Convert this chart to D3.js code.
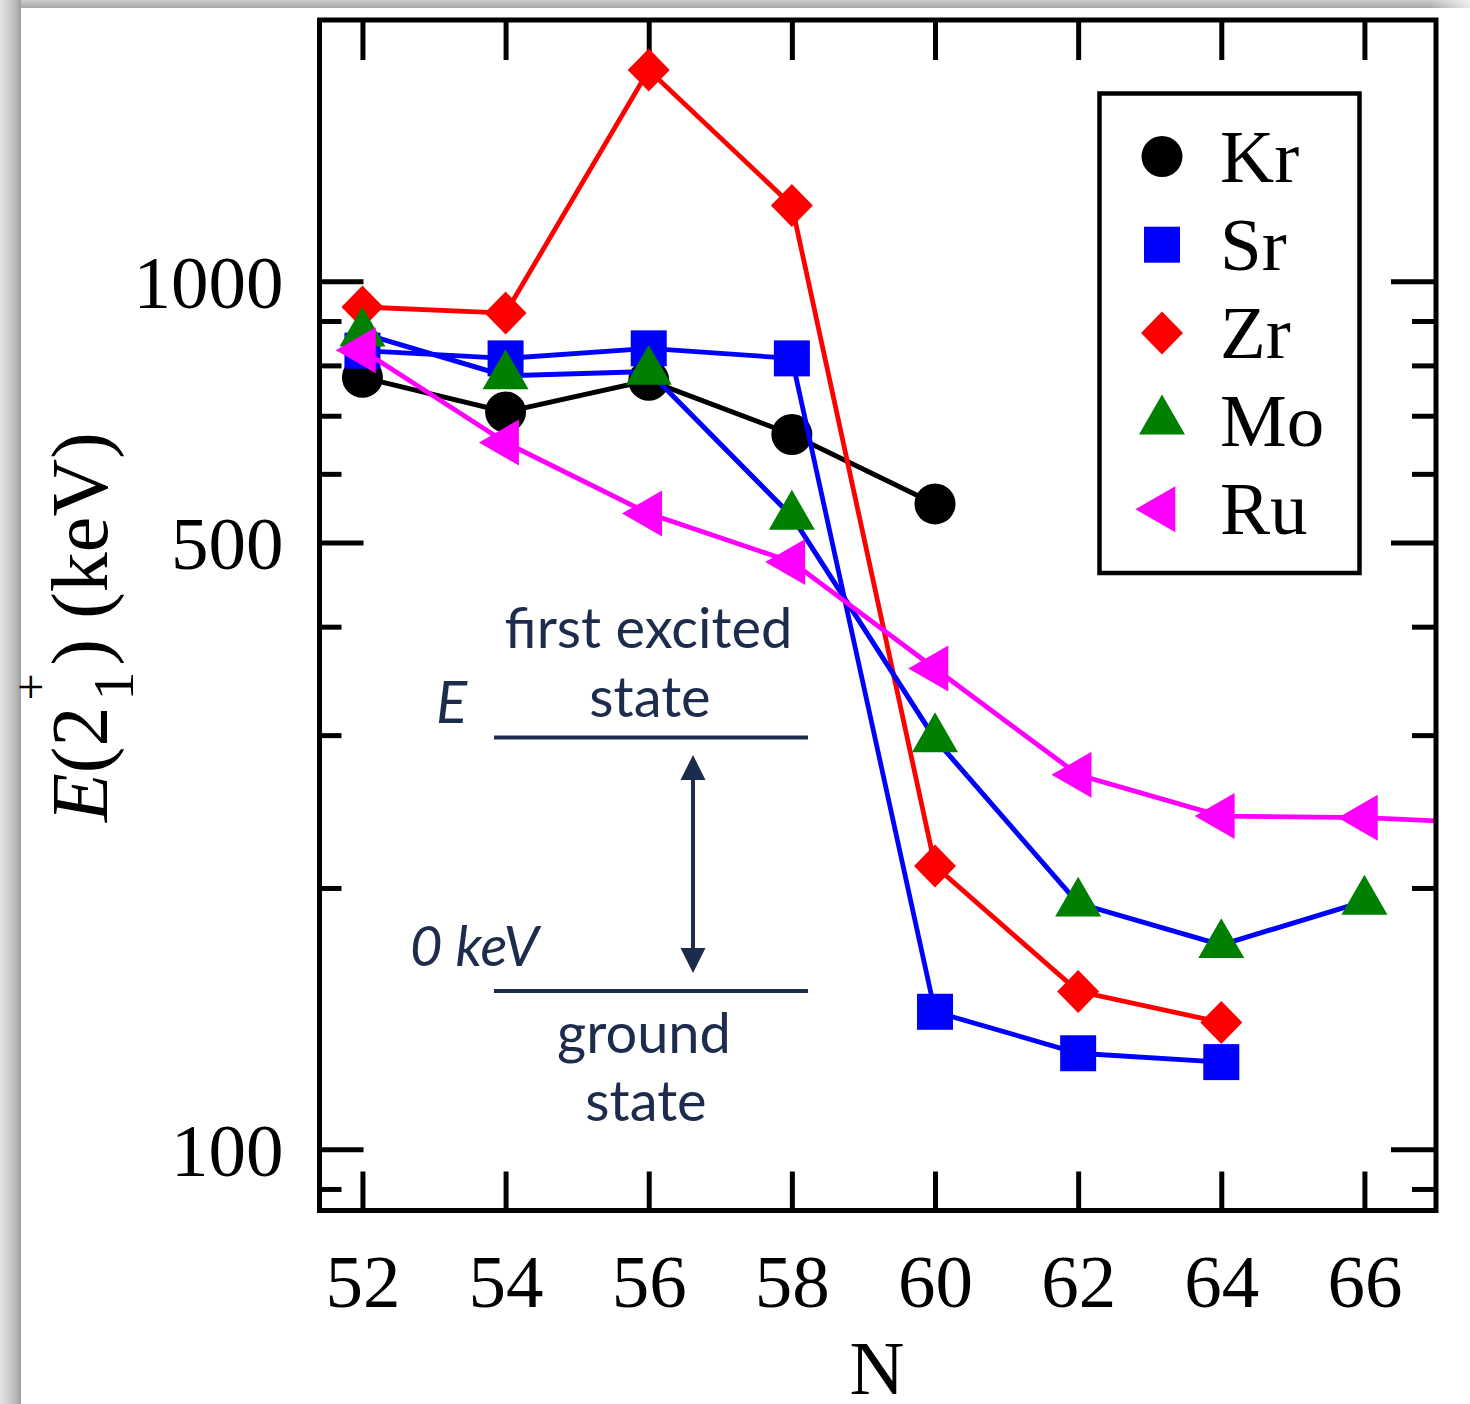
<!DOCTYPE html>
<html>
<head>
<meta charset="utf-8">
<script src="https://cdn.jsdelivr.net/npm/d3@7"></script>
<style>
  html, body { margin: 0; padding: 0; background: #ffffff; }
  svg { display: block; }
</style>
</head>
<body>
<div id="chart"></div>
<script>
// Neutron number N on the x axis, E(2+_1) in keV on a log y axis
const nTicks = [52, 54, 56, 58, 60, 62, 64, 66];
const yMajorTicks = [100, 500, 1000];
const yMinorTicks = [90, 200, 300, 400, 600, 700, 800, 900];

const krN = [52, 54, 56, 58, 60];
const krE = [775, 707, 769, 666, 554];

const srN = [52, 54, 56, 58, 60, 62, 64];
const srE = [832, 815, 837, 815, 144, 129, 126];

const zrN = [52, 54, 56, 58, 60, 62, 64];
const zrE = [934, 919, 1751, 1223, 212, 152, 140];

const moN = [52, 54, 56, 58, 60, 62, 64, 66];
const moE = [871, 778, 787, 536, 297, 192, 172, 193];

const ruN = [52, 54, 56, 58, 60, 62, 64, 66, 68];
const ruE = [833, 652, 540, 475, 358, 270, 242, 241, 237];

const seriesNames = ["Kr", "Sr", "Zr", "Mo", "Ru"];

// ---- layout ----
const W = 1470, H = 1404;
const plotL = 319.5, plotR = 1436, plotT = 20, plotB = 1210.5;

const x = d3.scaleLinear().domain([51.4, 67]).range([plotL, plotR]);
const y = d3.scaleLog().domain([85, 2000]).range([plotB, plotT]);

const serif = "'Liberation Serif', 'Times New Roman', serif";
const sans = "Lato, 'Open Sans', sans-serif";
const navy = "#1d2c4d";

// marker shapes, centred on the data point (triangles on their centroid)
const shapes = {
  circle: g => g.append("circle").attr("r", 20.5),
  square: g => g.append("rect").attr("x", -18).attr("y", -18).attr("width", 36).attr("height", 36),
  diamond: g => g.append("path").attr("d", "M0,-21.5L21,0L0,21.5L-21,0Z"),
  triUp: g => {
    const s = 46, h = s * Math.sqrt(3) / 2;
    return g.append("path").attr("d", `M0,${-2 * h / 3}L${s / 2},${h / 3}L${-s / 2},${h / 3}Z`);
  },
  triLeft: g => {
    const w = 40, hh = 23;
    return g.append("path").attr("d", `M${-2 * w / 3},0L${w / 3},${-hh}L${w / 3},${hh}Z`);
  }
};

const series = [
  { name: "Kr", n: krN, e: krE, shape: "circle",  fill: "#000000", line: "#000000", lw: 5 },
  { name: "Sr", n: srN, e: srE, shape: "square",  fill: "#0000ff", line: "#0000ff", lw: 4.8 },
  { name: "Zr", n: zrN, e: zrE, shape: "diamond", fill: "#ff0000", line: "#ff0000", lw: 4.8 },
  { name: "Mo", n: moN, e: moE, shape: "triUp",   fill: "#008000", line: "#0000ff", lw: 5 },
  { name: "Ru", n: ruN, e: ruE, shape: "triLeft", fill: "#ff00ff", line: "#ff00ff", lw: 4.8 }
];

const svg = d3.select("#chart").append("svg")
  .attr("width", W).attr("height", H)
  .attr("viewBox", `0 0 ${W} ${H}`);

// ---- page with a soft edge on the top and left ----
const defs = svg.append("defs");
const gl = defs.append("linearGradient").attr("id", "edgeLeft").attr("x1", 0).attr("x2", 1).attr("y1", 0).attr("y2", 0);
gl.append("stop").attr("offset", 0).attr("stop-color", "#e4e4e4");
gl.append("stop").attr("offset", 0.7).attr("stop-color", "#bdbdbd");
gl.append("stop").attr("offset", 1).attr("stop-color", "#9e9e9e");
const gt = defs.append("linearGradient").attr("id", "edgeTop").attr("x1", 0).attr("x2", 0).attr("y1", 0).attr("y2", 1);
gt.append("stop").attr("offset", 0).attr("stop-color", "#cdcdcd");
gt.append("stop").attr("offset", 1).attr("stop-color", "#a8a8a8");
const gtr = defs.append("linearGradient").attr("id", "edgeTopFade").attr("x1", 0).attr("x2", 1).attr("y1", 0).attr("y2", 0);
gtr.append("stop").attr("offset", 0).attr("stop-color", "#ffffff").attr("stop-opacity", 0);
gtr.append("stop").attr("offset", 1).attr("stop-color", "#ffffff").attr("stop-opacity", 0.75);

svg.append("rect").attr("width", W).attr("height", H).attr("fill", "#ffffff");
svg.append("rect").attr("x", 0).attr("y", 0).attr("width", W).attr("height", 8).attr("fill", "url(#edgeTop)");
svg.append("rect").attr("x", 1430).attr("y", 0).attr("width", 40).attr("height", 8).attr("fill", "url(#edgeTopFade)");
svg.append("rect").attr("x", 0).attr("y", 0).attr("width", 21).attr("height", H).attr("fill", "url(#edgeLeft)");

defs.append("clipPath").attr("id", "plotClip")
  .append("rect").attr("x", plotL).attr("y", plotT).attr("width", plotR - plotL).attr("height", plotB - plotT);

// ---- axes: inward ticks on all four sides ----
function styleAxis(g) {
  g.select(".domain").remove();
  g.selectAll(".tick line").attr("stroke", "#000").attr("stroke-width", 5);
  g.selectAll(".tick text").attr("font-family", serif).attr("font-size", 75).attr("fill", "#000");
}

svg.append("g").attr("transform", `translate(0,${plotB})`)
  .call(d3.axisBottom(x).tickValues(nTicks).tickSizeInner(-39).tickSizeOuter(0).tickFormat(d3.format("d")))
  .call(styleAxis)
  .call(g => g.selectAll(".tick text").attr("y", 96.5).attr("dy", 0));

svg.append("g").attr("transform", `translate(0,${plotT})`)
  .call(d3.axisTop(x).tickValues(nTicks).tickSizeInner(-40).tickSizeOuter(0).tickFormat(""))
  .call(styleAxis);

svg.append("g").attr("transform", `translate(${plotL},0)`)
  .call(d3.axisLeft(y).tickValues(yMajorTicks).tickSizeInner(-44).tickSizeOuter(0).tickPadding(36).tickFormat(d3.format("d")))
  .call(styleAxis)
  .call(g => g.selectAll(".tick text").attr("dy", "0.35em"));

svg.append("g").attr("transform", `translate(${plotL},0)`)
  .call(d3.axisLeft(y).tickValues(yMinorTicks).tickSizeInner(-22).tickSizeOuter(0).tickFormat(""))
  .call(styleAxis);

svg.append("g").attr("transform", `translate(${plotR},0)`)
  .call(d3.axisRight(y).tickValues(yMajorTicks).tickSizeInner(-45).tickSizeOuter(0).tickFormat(""))
  .call(styleAxis);

svg.append("g").attr("transform", `translate(${plotR},0)`)
  .call(d3.axisRight(y).tickValues(yMinorTicks).tickSizeInner(-24).tickSizeOuter(0).tickFormat(""))
  .call(styleAxis);

// ---- level-scheme inset ----
const inset = svg.append("g").attr("fill", navy).attr("font-family", sans).attr("font-size", 56);
inset.append("text").attr("x", 648.5).attr("y", 648).attr("text-anchor", "middle").text("first excited");
inset.append("text").attr("x", 650).attr("y", 717).attr("text-anchor", "middle").text("state");
inset.append("text").attr("x", 436).attr("y", 723).attr("font-style", "italic").attr("font-size", 58).text("E");
inset.append("text").attr("x", 410).attr("y", 966).attr("font-style", "italic").text("0 keV");
inset.append("text").attr("x", 644).attr("y", 1053).attr("text-anchor", "middle").text("ground");
inset.append("text").attr("x", 646).attr("y", 1121).attr("text-anchor", "middle").text("state");
inset.append("line").attr("x1", 494).attr("x2", 808).attr("y1", 737.5).attr("y2", 737.5)
  .attr("stroke", navy).attr("stroke-width", 4);
inset.append("line").attr("x1", 494).attr("x2", 808).attr("y1", 991).attr("y2", 991)
  .attr("stroke", navy).attr("stroke-width", 4);
inset.append("line").attr("x1", 693).attr("x2", 693).attr("y1", 770).attr("y2", 958)
  .attr("stroke", navy).attr("stroke-width", 4);
inset.append("path").attr("d", "M693,755L705.5,780L680.5,780Z");
inset.append("path").attr("d", "M693,973L705.5,948L680.5,948Z");

// ---- data: lines then markers, series by series ----
const plot = svg.append("g").attr("clip-path", "url(#plotClip)");
const lineGen = d3.line().x(d => x(d[0])).y(d => y(d[1]));

series.forEach(s => {
  const pts = s.n.map((n, i) => [n, s.e[i]]);
  plot.append("path").datum(pts)
    .attr("d", lineGen)
    .attr("fill", "none")
    .attr("stroke", s.line)
    .attr("stroke-width", s.lw)
    .attr("stroke-linejoin", "miter");
  pts.forEach(p => {
    const g = plot.append("g").attr("transform", `translate(${x(p[0])},${y(p[1])})`).attr("fill", s.fill);
    shapes[s.shape](g);
  });
});

// ---- frame ----
svg.append("rect").attr("x", plotL).attr("y", plotT)
  .attr("width", plotR - plotL).attr("height", plotB - plotT)
  .attr("fill", "none").attr("stroke", "#000").attr("stroke-width", 5);

// ---- legend ----
const legend = svg.append("g");
legend.append("rect").attr("x", 1099.5).attr("y", 93.5).attr("width", 260).attr("height", 479.5)
  .attr("fill", "#fff").attr("stroke", "#000").attr("stroke-width", 4.5);
series.forEach((s, i) => {
  const cy = 156.5 + i * 88.2;
  const g = legend.append("g").attr("transform", `translate(1162,${cy})`).attr("fill", s.fill);
  shapes[s.shape](g);
  legend.append("text").attr("x", 1220).attr("y", cy + 25)
    .attr("font-family", serif).attr("font-size", 75).attr("fill", "#000")
    .text(seriesNames[i]);
});

// ---- axis titles ----
svg.append("text").attr("x", 877).attr("y", 1394).attr("text-anchor", "middle")
  .attr("font-family", serif).attr("font-size", 76).attr("fill", "#000").text("N");

const yt = svg.append("text")
  .attr("transform", "translate(107,822) rotate(-90)")
  .attr("font-family", serif).attr("font-size", 80).attr("fill", "#000");
yt.append("tspan").attr("font-style", "italic").text("E");
yt.append("tspan").text("(2");
yt.append("tspan").attr("font-size", 58).attr("dx", 6).attr("dy", 26).text("1");
yt.append("tspan").attr("font-size", 48).attr("dx", -29).attr("dy", -86).text("+");
yt.append("tspan").attr("dx", 8).attr("dy", 60).text(")");
yt.append("tspan").text("\u00a0(keV)");
</script>
</body>
</html>
